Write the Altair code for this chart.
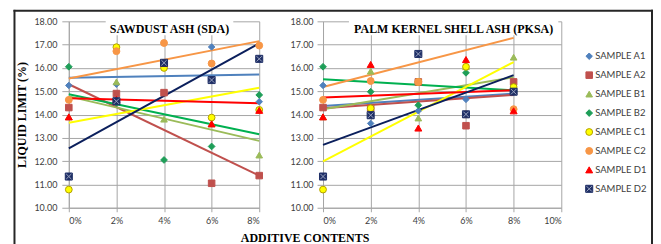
import altair as alt
import pandas as pd

# ---------------- data ----------------
additive = [0, 2, 4, 6, 8]
sample_keys = ["A1", "A2", "B1", "B2", "C1", "C2", "D1", "D2"]
sample_labels = ["SAMPLE  A1", "SAMPLE A2", "SAMPLE B1", "SAMPLE B2",
                 "SAMPLE C1", "SAMPLE C2", "SAMPLE D1", "SAMPLE D2"]

# Sawdust ash (SDA) liquid limits
sda_A1 = [15.25, 15.30, 16.20, 16.90, 14.55]
sda_A2 = [14.30, 14.90, 14.94, 11.05, 11.38]
sda_B1 = [13.90, 15.40, 13.80, 13.60, 12.26]
sda_B2 = [16.05, 14.50, 12.05, 12.63, 14.84]
sda_C1 = [10.78, 16.89, 16.00, 13.87, 14.20]
sda_C2 = [14.63, 16.72, 17.07, 16.19, 16.96]
sda_D1 = [13.90, 14.65, 16.20, 13.60, 14.18]
sda_D2 = [11.34, 14.57, 16.22, 15.48, 16.39]

# Palm kernel shell ash (PKSA) liquid limits
pk_A1 = [15.25, 13.62, 14.16, 14.65, 14.98]
pk_A2 = [14.30, 14.27, 15.40, 13.52, 15.40]
pk_B1 = [13.90, 15.86, 13.85, 16.05, 16.46]
pk_B2 = [16.05, 14.98, 14.40, 15.79, 14.98]
pk_C1 = [10.78, 14.27, 15.40, 16.05, 15.18]
pk_C2 = [14.63, 15.44, 15.40, 14.01, 14.23]
pk_D1 = [13.90, 16.15, 13.42, 16.36, 14.16]
pk_D2 = [11.34, 13.97, 16.60, 14.01, 14.98]

# Linear trend lines (value at 0 % and at 8 %)
trend_x = [0, 8]
sda_trend_start = [15.58, 15.30, 14.78, 14.87, 13.65, 15.55, 14.70, 12.55]
sda_trend_end = [15.72, 11.38, 12.87, 13.15, 15.15, 17.15, 14.48, 17.05]
pk_trend_start = [14.37, 14.27, 14.23, 15.51, 11.99, 15.18, 14.73, 12.70]
pk_trend_end = [14.90, 14.84, 15.60, 15.04, 16.25, 17.29, 15.04, 15.69]

y_ticks = [10, 11, 12, 13, 14, 15, 16, 17, 18]

# ---------------- styles ----------------
marker_fill = ["#4F81BD", "#C0504D", "#9BBB59", "#1E9E58", "#FFFF00", "#F79646", "#FF0000", "#1F2F66"]
marker_stroke = ["#4F81BD", "#C0504D", "#9BBB59", "#1E9E58", "#B3A100", "#F79646", "#FF0000", "#1F2F66"]
line_colors = ["#4F81BD", "#C0504D", "#9BBB59", "#00B050", "#FFFF00", "#F79646", "#FF0000", "#0B1F5C"]
shapes = ["diamond", "square", "triangle-up", "diamond", "circle", "circle", "triangle-up", "square"]
sizes = [42, 50, 58, 42, 46, 46, 58, 50]
X_PATH = "M-0.75,-0.75L0.75,0.75M-0.75,0.75L0.75,-0.75"

GRID = "#A6A6A6"
SERIF = "Liberation Serif"
SANS = "Lato"


def points_df(series):
    rows = []
    for key, vals in zip(sample_keys, series):
        for x, v in zip(additive, vals):
            rows.append({"sample": key, "x": x, "ll": v})
    return pd.DataFrame(rows)


def trend_df(start, end):
    rows = []
    for key, s, e in zip(sample_keys, start, end):
        rows.append({"sample": key, "x": trend_x[0], "ll": s})
        rows.append({"sample": key, "x": trend_x[1], "ll": e})
    return pd.DataFrame(rows)


sda_points = points_df([sda_A1, sda_A2, sda_B1, sda_B2, sda_C1, sda_C2, sda_D1, sda_D2])
pk_points = points_df([pk_A1, pk_A2, pk_B1, pk_B2, pk_C1, pk_C2, pk_D1, pk_D2])
sda_trend = trend_df(sda_trend_start, sda_trend_end)
pk_trend = trend_df(pk_trend_start, pk_trend_end)

H = 187


def panel(pts, trd, width, xmax, title, title_x, mask_x, y_title, tick_size, label_pad, extra=None):
    xs = alt.Scale(domain=[0, xmax], nice=False)
    ys = alt.Scale(domain=[10, 18], nice=False, zero=False)
    x_axis = alt.Axis(values=list(range(0, xmax + 1, 2)), labelExpr="datum.value + '%'",
                      grid=True, tickSize=4, labelPadding=5, labelFontSize=9, labelOverlap=False)
    if y_title:
        y_axis = alt.Axis(values=y_ticks, format=".2f", grid=True, tickSize=tick_size,
                          labelPadding=label_pad, labelOverlap=False, titlePadding=5)
        y_enc = alt.Y("ll:Q", scale=ys, axis=y_axis, title=y_title)
    else:
        y_axis = alt.Axis(values=y_ticks, format=".2f", grid=True, tickSize=tick_size,
                          labelPadding=label_pad, labelOverlap=False)
        y_enc = alt.Y("ll:Q", scale=ys, axis=y_axis, title=None)
    x_enc = alt.X("x:Q", scale=xs, axis=x_axis, title=None)

    lines = alt.Chart(trd).mark_line(strokeWidth=2).encode(
        x=x_enc, y=y_enc,
        color=alt.Color("sample:N", scale=alt.Scale(domain=sample_keys, range=line_colors), legend=None),
        detail="sample:N",
    )
    pts_layer = alt.Chart(pts).mark_point(filled=True, opacity=1, strokeWidth=1).encode(
        x=x_enc, y=y_enc,
        fill=alt.Fill("sample:N", scale=alt.Scale(domain=sample_keys, range=marker_fill), legend=None),
        stroke=alt.Stroke("sample:N", scale=alt.Scale(domain=sample_keys, range=marker_stroke), legend=None),
        shape=alt.Shape("sample:N", scale=alt.Scale(domain=sample_keys, range=shapes), legend=None),
        size=alt.Size("sample:N", scale=alt.Scale(domain=sample_keys, range=sizes), legend=None),
    )
    xmarks = alt.Chart(pts).transform_filter(alt.datum.sample == "D2").mark_point(
        shape=X_PATH, filled=False, stroke="#9AA3BF", strokeWidth=1, size=50, opacity=1
    ).encode(x=x_enc, y=y_enc)

    tdf = pd.DataFrame({"t": [title]})
    mask = alt.Chart(tdf).mark_rect(fill="white").encode(
        x=alt.value(mask_x[0]), x2=alt.value(mask_x[1]), y=alt.value(-6), y2=alt.value(14))
    ttl = alt.Chart(tdf).mark_text(font=SERIF, fontWeight="bold", fontSize=12, color="black",
                                   align="center", baseline="alphabetic").encode(
        text="t:N", x=alt.value(title_x), y=alt.value(12))
    layers = [lines, pts_layer, xmarks, mask, ttl]
    if extra:
        layers += extra
    return alt.layer(*layers).resolve_scale(color="independent").properties(width=width, height=H)


# frame (three filled bars) and shared x-axis title, positioned relative to left plot
one = pd.DataFrame({"t": ["ADDITIVE CONTENTS"]})
FR = "#262626"
frame_top = alt.Chart(one).mark_rect(fill=FR).encode(
    x=alt.value(-55.5), x2=alt.value(586), y=alt.value(-11.5), y2=alt.value(-9.5))
frame_left = alt.Chart(one).mark_rect(fill=FR).encode(
    x=alt.value(-55.5), x2=alt.value(-53.5), y=alt.value(-11.5), y2=alt.value(226))
frame_right = alt.Chart(one).mark_rect(fill=FR).encode(
    x=alt.value(584), x2=alt.value(586), y=alt.value(-11.5), y2=alt.value(226))
xtitle = alt.Chart(one).mark_text(font=SERIF, fontWeight="bold", fontSize=12, color="black",
                                  align="center", baseline="alphabetic").encode(
    text="t:N", x=alt.value(237), y=alt.value(221))

left = panel(sda_points, sda_trend, 191, 8, "SAWDUST ASH (SDA)", 101, (37, 165),
             "LIQUID LIMIT (%)", 7, 5, extra=[frame_top, frame_left, frame_right, xtitle])
right = panel(pk_points, pk_trend, 239, 10, "PALM KERNEL SHELL ASH (PKSA)", 131, (26, 236),
              None, 6, 4)

# legend panel
leg_df = pd.DataFrame({"sample": sample_keys, "label": sample_labels})
leg_y = alt.Y("sample:N", sort=sample_keys, scale=alt.Scale(range=[35, 168], padding=0), axis=None)
leg_pts = alt.Chart(leg_df).mark_point(filled=True, opacity=1, strokeWidth=1).encode(
    x=alt.value(8), y=leg_y,
    fill=alt.Fill("sample:N", scale=alt.Scale(domain=sample_keys, range=marker_fill), legend=None),
    stroke=alt.Stroke("sample:N", scale=alt.Scale(domain=sample_keys, range=marker_stroke), legend=None),
    shape=alt.Shape("sample:N", scale=alt.Scale(domain=sample_keys, range=shapes), legend=None),
    size=alt.Size("sample:N", scale=alt.Scale(domain=sample_keys, range=sizes), legend=None),
)
leg_x = alt.Chart(leg_df).transform_filter(alt.datum.sample == "D2").mark_point(
    shape=X_PATH, filled=False, stroke="#9AA3BF", strokeWidth=1, size=50, opacity=1
).encode(x=alt.value(8), y=leg_y)
leg_txt = alt.Chart(leg_df).mark_text(font=SANS, fontSize=9.5, color="#404040", align="left",
                                      baseline="middle").encode(
    x=alt.value(14), y=leg_y, text="label:N")
legend = alt.layer(leg_pts, leg_x, leg_txt).properties(width=60, height=H)

right_group = alt.hconcat(right, legend, spacing=20, bounds="flush")

chart = alt.hconcat(left, right_group, spacing=64, bounds="flush").properties(
    padding={"left": 5, "top": 1, "right": 0, "bottom": 0}
).configure_view(stroke=None).configure_axis(
    gridColor=GRID, domainColor=GRID, tickColor=GRID, gridWidth=1,
    labelFont=SANS, labelFontSize=9, labelColor="#404040",
    titleFont=SERIF, titleFontWeight="bold", titleFontSize=12, titleColor="black",
)

chart.save("out.html", embed_options={"renderer": "svg", "actions": False})
